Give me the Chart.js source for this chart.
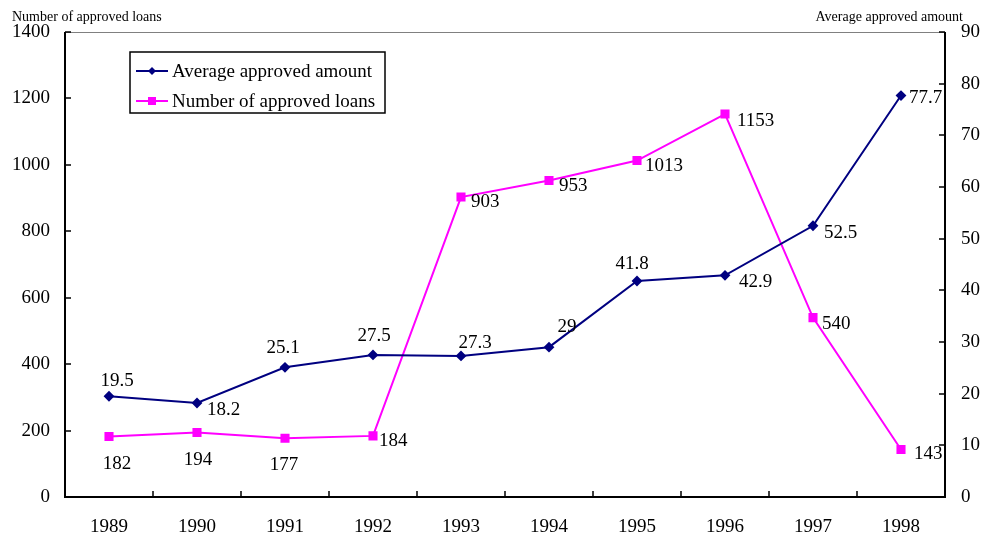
<!DOCTYPE html>
<html>
<head>
<meta charset="utf-8">
<script src="https://cdn.jsdelivr.net/npm/chart.js@4/dist/chart.umd.min.js"></script>
<style>
  html, body { margin: 0; padding: 0; background: #fff; }
  #wrap { width: 988px; height: 540px; }
</style>
</head>
<body>
<div id="wrap"><canvas id="grafico" width="988" height="540"></canvas></div>
<script>
// ==========================
// DADOS
// ==========================
const anos = ["1989", "1990", "1991", "1992", "1993", "1994", "1995", "1996", "1997", "1998"];
const valorMedio = [19.5, 18.2, 25.1, 27.5, 27.3, 29, 41.8, 42.9, 52.5, 77.7];
const numEmprestimos = [182, 194, 177, 184, 903, 953, 1013, 1153, 540, 143];
const ticksEsquerda = [0, 200, 400, 600, 800, 1000, 1200, 1400];
const ticksDireita = [0, 10, 20, 30, 40, 50, 60, 70, 80, 90];

// posição dos rótulos em relação ao ponto [dx, dy, alinhamento]
const posMedio = [[8, -15, "center"], [10, 7, "left"], [-2, -19, "center"], [1, -19, "center"], [14, -13, "center"],
                  [18, -20, "center"], [-5, -17, "center"], [14, 7, "left"], [11, 7, "left"], [8, 2, "left"]];
const posNumero = [[8, 27, "center"], [1, 27, "center"], [-1, 27, "center"], [6, 5, "left"], [10, 5, "left"],
                   [10, 6, "left"], [8, 5, "left"], [12, 7, "left"], [9, 6, "left"], [13, 5, "left"]];

const FONTE = "'Liberation Serif', 'Times New Roman', serif";

// ticks para dentro + títulos dos eixos + legenda + rótulos
const extras = {
    id: "extras",
    afterDraw(chart) {
        const ctx = chart.ctx;
        const a = chart.chartArea;
        const yL = chart.scales.y, yR = chart.scales.y1, x = chart.scales.x;
        ctx.save();

        // borda de cima (cinza)
        ctx.strokeStyle = "#808080";
        ctx.lineWidth = 1;
        ctx.beginPath();
        ctx.moveTo(a.left, a.top + 0.5);
        ctx.lineTo(a.right, a.top + 0.5);
        ctx.stroke();

        // eixos
        ctx.strokeStyle = "#000";
        ctx.lineWidth = 2;
        ctx.beginPath();
        ctx.moveTo(a.left, a.top); ctx.lineTo(a.left, a.bottom); ctx.lineTo(a.right, a.bottom); ctx.lineTo(a.right, a.top);
        ctx.stroke();

        ctx.lineWidth = 1.5;
        ctx.beginPath();
        ticksEsquerda.forEach(v => {
            const py = Math.round(yL.getPixelForValue(v));
            ctx.moveTo(a.left, py); ctx.lineTo(a.left + 6, py);
        });
        ticksDireita.forEach(v => {
            const py = Math.round(yR.getPixelForValue(v));
            ctx.moveTo(a.right, py); ctx.lineTo(a.right - 6, py);
        });
        for (let i = 1; i < anos.length; i++) {
            const px = Math.round((x.getPixelForValue(i - 1) + x.getPixelForValue(i)) / 2);
            ctx.moveTo(px, a.bottom); ctx.lineTo(px, a.bottom - 6);
        }
        ctx.stroke();

        // títulos dos eixos
        ctx.fillStyle = "#000";
        ctx.font = "14px " + FONTE;
        ctx.textBaseline = "middle";
        ctx.textAlign = "left";
        ctx.fillText("Number of approved loans", 12, 17);
        ctx.textAlign = "right";
        ctx.fillText("Average approved amount", 963, 17);

        // rótulos dos pontos
        ctx.font = "19px " + FONTE;
        const rotular = (idx, valores, pos) => {
            const meta = chart.getDatasetMeta(idx);
            meta.data.forEach((pt, i) => {
                const p = pos[i];
                ctx.textAlign = p[2];
                ctx.fillText(String(valores[i]), pt.x + p[0], pt.y + p[1]);
            });
        };
        rotular(0, valorMedio, posMedio);
        rotular(1, numEmprestimos, posNumero);

        // legenda
        const lx = 130, ly = 52, lw = 255, lh = 61;
        ctx.fillStyle = "#fff";
        ctx.fillRect(lx, ly, lw, lh);
        ctx.strokeStyle = "#000";
        ctx.lineWidth = 1.5;
        ctx.strokeRect(lx, ly, lw, lh);
        chart.data.datasets.forEach((ds, i) => {
            const cy = ly + 19 + i * 30;
            ctx.strokeStyle = ds.borderColor;
            ctx.lineWidth = 2;
            ctx.beginPath();
            ctx.moveTo(lx + 6, cy); ctx.lineTo(lx + 38, cy);
            ctx.stroke();
            ctx.fillStyle = ds.pointBackgroundColor;
            if (ds.pointStyle === "rectRot") {
                ctx.beginPath();
                ctx.moveTo(lx + 22, cy - 4); ctx.lineTo(lx + 26, cy); ctx.lineTo(lx + 22, cy + 4); ctx.lineTo(lx + 18, cy);
                ctx.closePath(); ctx.fill();
            } else {
                ctx.fillRect(lx + 18, cy - 4, 8, 8);
            }
            ctx.fillStyle = "#000";
            ctx.textAlign = "left";
            ctx.font = "19px " + FONTE;
            ctx.fillText(ds.label, lx + 42, cy + 1);
        });
        ctx.restore();
    }
};

const ctx = document.getElementById("grafico");

new Chart(ctx, {
    type: "line",
    data: {
        labels: anos,
        datasets: [{
            label: "Average approved amount",
            data: valorMedio,
            yAxisID: "y1",
            borderColor: "#000080",
            backgroundColor: "#000080",
            pointBackgroundColor: "#000080",
            pointBorderColor: "#000080",
            pointStyle: "rectRot",
            pointRadius: 4,
            borderWidth: 2,
            tension: 0
        }, {
            label: "Number of approved loans",
            data: numEmprestimos,
            yAxisID: "y",
            borderColor: "#FF00FF",
            backgroundColor: "#FF00FF",
            pointBackgroundColor: "#FF00FF",
            pointBorderColor: "#FF00FF",
            pointStyle: "rect",
            pointRadius: 5,
            borderWidth: 2,
            tension: 0
        }]
    },
    options: {
        responsive: false,
        animation: false,
        layout: { padding: { top: 32, left: 0, right: 0, bottom: 0 } },
        plugins: {
            legend: { display: false },
            tooltip: { enabled: false }
        },
        scales: {
            x: {
                offset: true,
                grid: { display: false },
                border: { display: false },
                ticks: { color: "#000", font: { family: FONTE, size: 19 }, padding: 11 },
                afterFit(s) { s.height = 43; }
            },
            y: {
                position: "left",
                min: 0, max: 1400,
                grid: { display: false },
                border: { display: false },
                afterBuildTicks(s) { s.ticks = ticksEsquerda.map(v => ({ value: v })); },
                ticks: { color: "#000", font: { family: FONTE, size: 19 }, padding: 7, callback: v => String(v) },
                afterFit(s) { s.width = 65; }
            },
            y1: {
                position: "right",
                min: 0, max: 90,
                grid: { display: false },
                border: { display: false },
                afterBuildTicks(s) { s.ticks = ticksDireita.map(v => ({ value: v })); },
                ticks: { color: "#000", font: { family: FONTE, size: 19 }, padding: 8, callback: v => String(v) },
                afterFit(s) { s.width = 43; }
            }
        }
    },
    plugins: [extras]
});
</script>
</body>
</html>
